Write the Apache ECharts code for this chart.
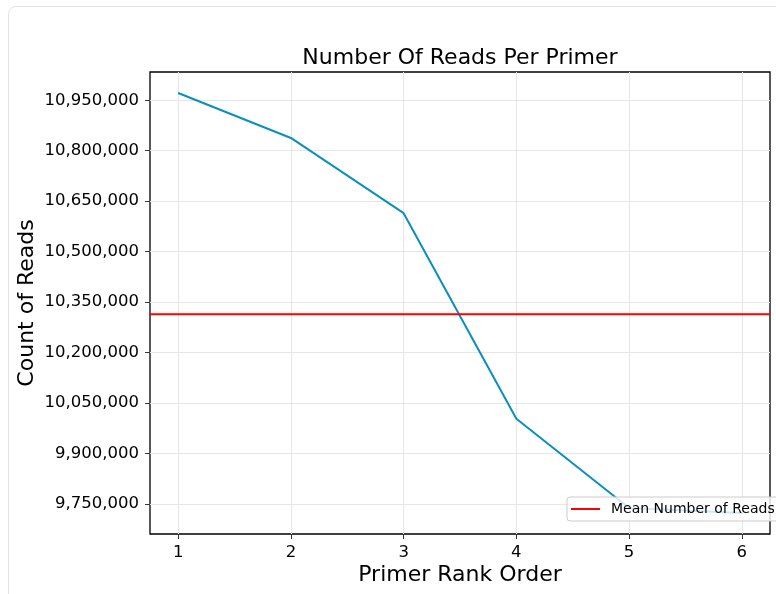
<!DOCTYPE html>
<html>
<head>
<meta charset="utf-8">
<script src="https://cdn.jsdelivr.net/npm/echarts@6/dist/echarts.min.js"></script>
<style>
html,body{margin:0;padding:0;width:776px;height:594px;overflow:hidden;background:#fff;}
#card{position:absolute;left:8px;top:6px;width:820px;height:640px;border:1px solid #e3e3e3;border-radius:8px;box-sizing:border-box;}
#chart{position:absolute;left:0;top:0;width:776px;height:594px;}
</style>
</head>
<body>
<div id="card"></div>
<div id="chart"></div>
<script>
const primerRanks = [1, 2, 3, 4, 5, 6];
const readCounts = [10971600, 10838000, 10614400, 10003500, 9738000, 9723400];
const meanReads = 10314000;
const xTicks = [1, 2, 3, 4, 5, 6];
const yTicks = [9750000, 9900000, 10050000, 10200000, 10350000, 10500000, 10650000, 10800000, 10950000];
const titleText = 'Number Of Reads Per Primer';
const xName = 'Primer Rank Order';
const yName = 'Count of Reads';
const meanName = 'Mean Number of Reads';

const X_MIN = 0.75, X_MAX = 6.25;
const Y_MIN = 9661000, Y_MAX = 11034000;
const FONT = 'DejaVu Sans';

const chart = echarts.init(document.getElementById('chart'), null, {renderer: 'canvas'});
const fmt = v => Math.round(v).toLocaleString('en-US');

chart.setOption({
  animation: false,
  backgroundColor: 'transparent',
  textStyle: {fontFamily: FONT},
  title: {
    text: titleText,
    left: 460, top: 47, textAlign: 'center', padding: 0,
    textStyle: {fontFamily: FONT, fontSize: 22, fontWeight: 'normal', color: '#000'}
  },
  legend: {
    data: [{name: meanName, icon: 'rect'}],
    left: 567, top: 497,
    padding: [5, 6, 5, 4],
    itemWidth: 29, itemHeight: 2,
    backgroundColor: 'rgba(255,255,255,0.8)',
    borderColor: '#cccccc', borderWidth: 1, borderRadius: 3,
    textStyle: {fontFamily: FONT, fontSize: 14, color: '#000', padding: [0, 0, 0, 6], lineHeight: 14}
  },
  grid: {
    left: 150, top: 72, right: 6, bottom: 60,
    show: true, borderColor: '#000', borderWidth: 1.3, backgroundColor: 'transparent'
  },
  xAxis: {
    type: 'value', min: X_MIN, max: X_MAX,
    name: xName, nameLocation: 'middle', nameGap: 30, nameMoveOverlap: false,
    nameTextStyle: {fontFamily: FONT, fontSize: 22, color: '#000', verticalAlign: 'top'},
    axisLine: {show: false},
    axisTick: {show: true, customValues: xTicks, length: 5, lineStyle: {color: '#333', width: 1}},
    axisLabel: {customValues: xTicks, margin: 10, fontFamily: FONT, fontSize: 16.5, color: '#000', formatter: v => String(v)},
    splitLine: {show: true, lineStyle: {color: '#e6e6e6', width: 1}}
  },
  yAxis: {
    type: 'value', min: Y_MIN, max: Y_MAX,
    name: yName, nameLocation: 'middle', nameGap: 112, nameRotate: 90, nameMoveOverlap: false,
    nameTextStyle: {fontFamily: FONT, fontSize: 22, color: '#000'},
    axisLine: {show: false},
    axisTick: {show: true, customValues: yTicks, length: 5, lineStyle: {color: '#333', width: 1}},
    axisLabel: {customValues: yTicks, margin: 11, fontFamily: FONT, fontSize: 16.5, color: '#000', formatter: fmt},
    splitLine: {show: true, lineStyle: {color: '#e6e6e6', width: 1}}
  },
  series: [
    {
      name: 'Reads',
      type: 'line',
      data: primerRanks.map((r, i) => [r, readCounts[i]]),
      showSymbol: false, symbol: 'none',
      lineStyle: {color: '#0a8fc0', width: 2},
      itemStyle: {color: '#0a8fc0'},
      z: 3
    },
    {
      name: meanName,
      type: 'line',
      data: [[X_MIN, meanReads], [X_MAX, meanReads]],
      showSymbol: false, symbol: 'none',
      lineStyle: {color: '#ff0000', width: 2},
      itemStyle: {color: '#ff0000'},
      z: 3
    }
  ]
});
</script>
</body>
</html>
